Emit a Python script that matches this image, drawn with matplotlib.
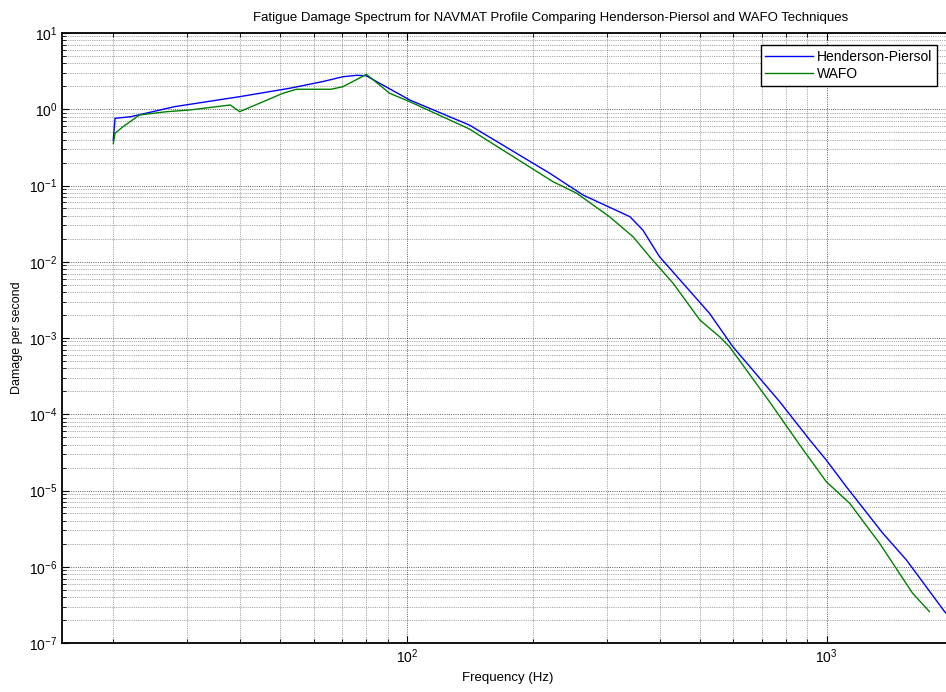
import matplotlib
matplotlib.use('Agg')
import matplotlib.pyplot as plt
import numpy as np

plt.rcParams['font.family'] = ['Liberation Sans', 'DejaVu Sans']
plt.rcParams['mathtext.default'] = 'regular'

# Henderson-Piersol damage spectrum
hp_freq = [20, 20.2, 22, 28, 40, 52.6, 63, 70.5, 76, 80, 101.7, 141, 219, 263,
           340, 365, 400, 455, 526, 598, 773, 912, 998, 1114, 1361, 1549, 1910, 2000]
hp_logd = [-0.403, -0.119, -0.098, 0.034, 0.165, 0.275, 0.362, 0.427, 0.445, 0.44,
           0.121, -0.207, -0.839, -1.125, -1.409, -1.584, -1.934, -2.283, -2.676,
           -3.114, -3.835, -4.338, -4.6, -4.95, -5.561, -5.911, -6.589, -6.70]

# WAFO damage spectrum
wafo_freq = [20, 20.2, 21.1, 23.1, 26.8, 30.4, 38, 40, 50.7, 54.6, 66, 70.5, 80.2,
             91.1, 101.7, 141, 223, 254, 304, 346, 379, 431, 499, 556, 587, 731,
             863, 998, 1135, 1337, 1603, 1758]
wafo_logd = [-0.45, -0.315, -0.229, -0.075, -0.032, -0.01, 0.056, -0.032, 0.209,
             0.262, 0.262, 0.296, 0.458, 0.209, 0.099, -0.259, -0.95, -1.102,
             -1.409, -1.672, -1.934, -2.283, -2.764, -2.983, -3.114, -3.835,
             -4.403, -4.884, -5.168, -5.692, -6.348, -6.589]

hp_dmg = 10 ** np.array(hp_logd)
wafo_dmg = 10 ** np.array(wafo_logd)

fig = plt.figure(figsize=(9.46, 6.92), dpi=100)
ax = fig.add_axes([62 / 946, 49 / 692, 891 / 946, 610 / 692])

ax.loglog(hp_freq, hp_dmg, color='b', lw=1.0, label='Henderson-Piersol')
ax.loglog(wafo_freq, wafo_dmg, color=(0, 0.5, 0), lw=1.0, label='WAFO')

ax.set_xlim(15.1, 2000)
ax.set_ylim(1e-7, 10)
ax.set_yticks([10.0 ** k for k in range(-7, 2)])

ax.grid(True, which='major', linestyle=':', color='k', lw=0.6, alpha=0.85)
ax.grid(True, which='minor', linestyle=':', color='k', lw=0.5, alpha=0.65)

ax.tick_params(which='both', direction='in', top=True, right=True, labelsize=10)
ax.tick_params(which='major', length=5)
ax.tick_params(which='minor', length=3)
for s in ax.spines.values():
    s.set_linewidth(1.3)

# title sits a bit right of the axes centre in the reference
ax.set_title('Fatigue Damage Spectrum for NAVMAT Profile Comparing Henderson-Piersol and WAFO Techniques',
             fontsize=9.5, pad=9, x=(551 - 62) / 891)
ax.set_xlabel('Frequency (Hz)', fontsize=9.5)
ax.set_ylabel('Damage per second', fontsize=9)

leg = ax.legend(loc='upper right', bbox_to_anchor=(937 / 946, 1 - 45 / 692),
                bbox_transform=fig.transFigure, borderaxespad=0, fontsize=10,
                fancybox=False, edgecolor='k', framealpha=1, handlelength=3.4,
                handletextpad=0.3, borderpad=0.35, labelspacing=0.25)
leg.get_frame().set_linewidth(1.0)

fig.savefig('out.png', dpi=100)
